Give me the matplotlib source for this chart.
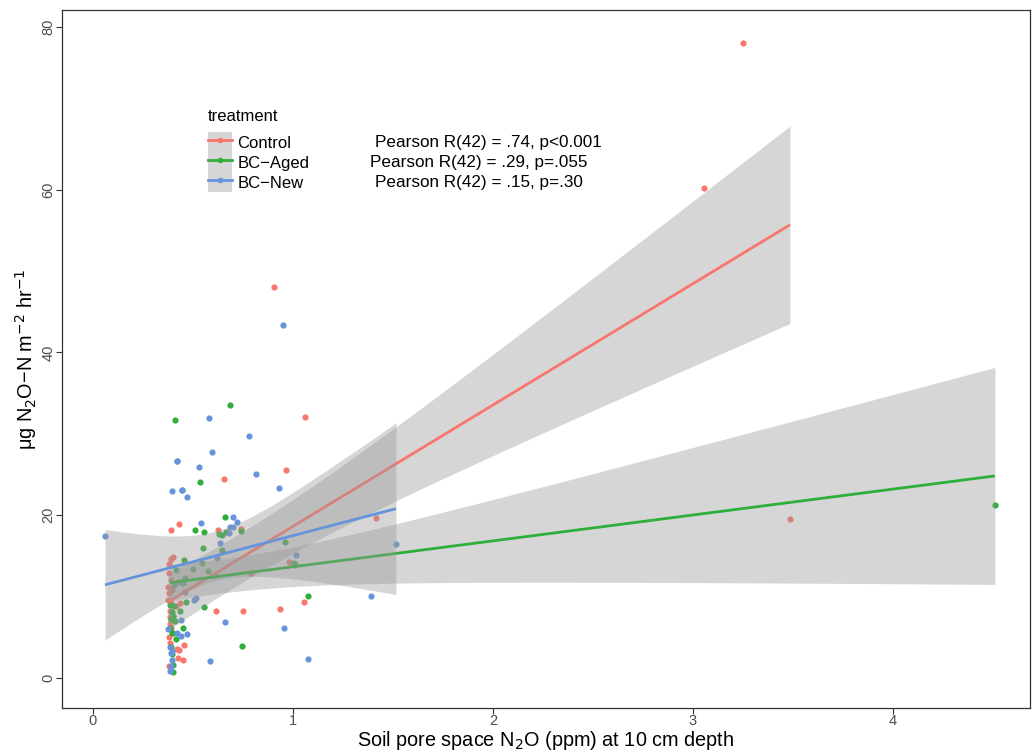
import numpy as np
import matplotlib
matplotlib.use("Agg")
import matplotlib.pyplot as plt
from matplotlib.patches import Patch
from matplotlib.lines import Line2D
from matplotlib.legend_handler import HandlerTuple

plt.rcParams['font.family'] = ['Liberation Sans', 'DejaVu Sans']

# ---- data -------------------------------------------------------------
treatments = ["Control", "BC\u2212Aged", "BC\u2212New"]
colors = ["#F8766D", "#2DAF3A", "#6594DA"]

control_x = [3.25, 3.055, 3.485, 0.905, 1.06, 0.965, 0.655, 1.415, 0.43, 0.39,
             0.625, 0.74, 0.98, 0.79, 1.055, 0.935, 0.75, 0.615, 0.455, 0.45,
             0.40, 0.39, 0.38, 0.38, 0.39, 0.375, 0.38, 0.375, 0.39, 0.435,
             0.385, 0.39, 0.385, 0.39, 0.40, 0.38, 0.385, 0.42, 0.43, 0.425,
             0.38, 0.415, 0.395, 0.385]
control_y = [78.1, 60.2, 19.5, 48.0, 32.1, 25.6, 24.4, 19.7, 18.9, 18.2,
             18.2, 18.3, 14.3, 12.9, 9.3, 8.5, 8.2, 8.2, 4.05, 2.2,
             14.9, 14.6, 14.0, 12.9, 12.0, 11.2, 10.4, 9.6, 9.2, 9.2,
             8.2, 7.0, 6.6, 6.1, 5.5, 5.0, 4.3, 3.6, 3.4, 2.5,
             1.4, 8.8, 10.8, 7.5]

aged_x = [4.51, 0.685, 0.41, 0.535, 0.66, 0.51, 0.555, 0.63, 0.645, 0.665,
          0.74, 0.96, 0.55, 0.645, 1.005, 1.01, 0.545, 0.50, 0.575, 0.46,
          0.45, 0.465, 0.555, 1.075, 0.45, 0.745, 0.435, 0.40, 0.415, 0.39,
          0.395, 0.40, 0.40, 0.405, 0.41, 0.395, 0.385, 0.415, 0.455, 0.61,
          0.39, 0.395, 0.385, 0.405]
aged_y = [21.3, 33.5, 31.7, 24.1, 19.8, 18.2, 17.9, 17.7, 17.6, 17.9,
          18.1, 16.7, 16.0, 15.7, 14.1, 13.9, 14.1, 13.4, 13.1, 12.3,
          11.7, 9.3, 8.7, 10.1, 6.1, 3.9, 8.2, 7.6, 4.8, 3.8,
          2.9, 1.6, 0.7, 8.8, 7.0, 5.5, 9.0, 13.3, 14.5, 12.7,
          7.2, 8.1, 6.1, 11.4]

new_x = [0.06, 0.95, 0.58, 0.78, 0.595, 0.42, 0.53, 0.815, 0.395, 0.445,
         0.47, 0.93, 0.54, 0.685, 0.635, 1.015, 0.62, 1.515, 1.39, 0.515,
         0.66, 0.955, 0.47, 0.44, 0.585, 1.075, 0.43, 0.46, 0.505, 0.44,
         0.375, 0.42, 0.395, 0.42, 0.445, 0.385, 0.39, 0.395, 0.39, 0.385,
         0.68, 0.70, 0.72, 0.70]
new_y = [17.4, 43.4, 31.9, 29.7, 27.8, 26.7, 25.9, 25.0, 23.0, 23.1,
         22.2, 23.3, 19.0, 18.6, 16.6, 15.1, 14.7, 16.5, 10.1, 9.8,
         6.9, 6.1, 5.4, 5.2, 2.1, 2.3, 11.8, 10.6, 9.6, 7.1,
         6.0, 5.5, 3.3, 26.7, 23.1, 0.8, 1.5, 2.2, 3.0, 3.8,
         17.8, 18.5, 19.2, 19.8]

series_x = [control_x, aged_x, new_x]
series_y = [control_y, aged_y, new_y]

pearson_labels = ["Pearson R(42) = .74, p<0.001",
                  "Pearson R(42) = .29, p=.055",
                  "Pearson R(42) = .15, p=.30"]

T_CRIT = 2.018  # two-sided 95% t quantile, df = 42


def lm_band(x, y, n=80):
    """Least-squares line with a 95% confidence band over the range of x."""
    x = np.asarray(x, float)
    y = np.asarray(y, float)
    slope, intercept = np.polyfit(x, y, 1)
    xs = np.linspace(x.min(), x.max(), n)
    fit = intercept + slope * xs
    resid = y - (intercept + slope * x)
    s = np.sqrt(np.sum(resid ** 2) / (len(x) - 2))
    se = s * np.sqrt(1 / len(x) + (xs - x.mean()) ** 2 / np.sum((x - x.mean()) ** 2))
    return xs, fit, fit - T_CRIT * se, fit + T_CRIT * se


# ---- figure -----------------------------------------------------------
fig = plt.figure(figsize=(10.33, 7.51), dpi=100)
ax = fig.add_axes([0.060, 0.0573, 0.937, 0.9294])

for xs, ys, c in zip(series_x, series_y, colors):
    ax.scatter(xs, ys, s=20, color=c, linewidths=0, zorder=2)

for i, (xs, ys, c) in enumerate(zip(series_x, series_y, colors)):
    gx, fit, lo, hi = lm_band(xs, ys)
    ax.fill_between(gx, lo, hi, color="#999999", alpha=0.4, linewidth=0,
                    zorder=3 + 2 * i)
    ax.plot(gx, fit, color=c, lw=2.0, zorder=4 + 2 * i,
            solid_capstyle="butt")

ax.set_xlim(-0.155, 4.685)
ax.set_ylim(-3.7, 82.1)
ax.set_xticks([0, 1, 2, 3, 4])
ax.set_yticks([0, 20, 40, 60, 80])
ax.tick_params(axis="both", direction="out", length=4, width=0.8,
               color="#333333", labelcolor="#4D4D4D", labelsize=10.5)
ax.tick_params(axis="x", pad=0.5)
ax.tick_params(axis="y", pad=0.8)
for lab in ax.get_yticklabels():
    lab.set_rotation(90)
    lab.set_va("center")
for sp in ax.spines.values():
    sp.set_color("#333333")
    sp.set_linewidth(0.9)

ax.set_xlabel("Soil pore space N$_2$O (ppm) at 10 cm depth", fontsize=14.3,
              labelpad=0.5)
ax.set_ylabel("\u03bcg N$_2$O\u2212N m$^{-2}$ hr$^{-1}$", fontsize=14.3,
              labelpad=1.5)

# correlation notes
note_pos = [(1.41, 65.8), (1.385, 63.4), (1.41, 60.9)]
for (tx, ty), txt in zip(note_pos, pearson_labels):
    ax.text(tx, ty, txt, fontsize=12.3, va="center", ha="left", color="black")

# legend: grey ribbon key with the coloured line and point on top
handles = []
for c in colors:
    handles.append((Patch(facecolor="#D6D6D6", edgecolor="none"),
                    Line2D([0], [0], color=c, lw=2.0, marker="o",
                           markersize=4, markeredgewidth=0)))
leg = ax.legend(handles, treatments, title="treatment",
                handler_map={tuple: HandlerTuple(ndivide=1, pad=0)},
                loc="upper left", bbox_to_anchor=(0.2014, 0.855),
                bbox_transform=fig.transFigure, frameon=False,
                fontsize=12, title_fontsize=12, handlelength=1.45,
                handleheight=1.47, labelspacing=0.0, handletextpad=0.3,
                borderpad=0, borderaxespad=0)
leg._legend_box.align = "left"
leg._legend_box.sep = 6

fig.savefig("out.png", dpi=100)
